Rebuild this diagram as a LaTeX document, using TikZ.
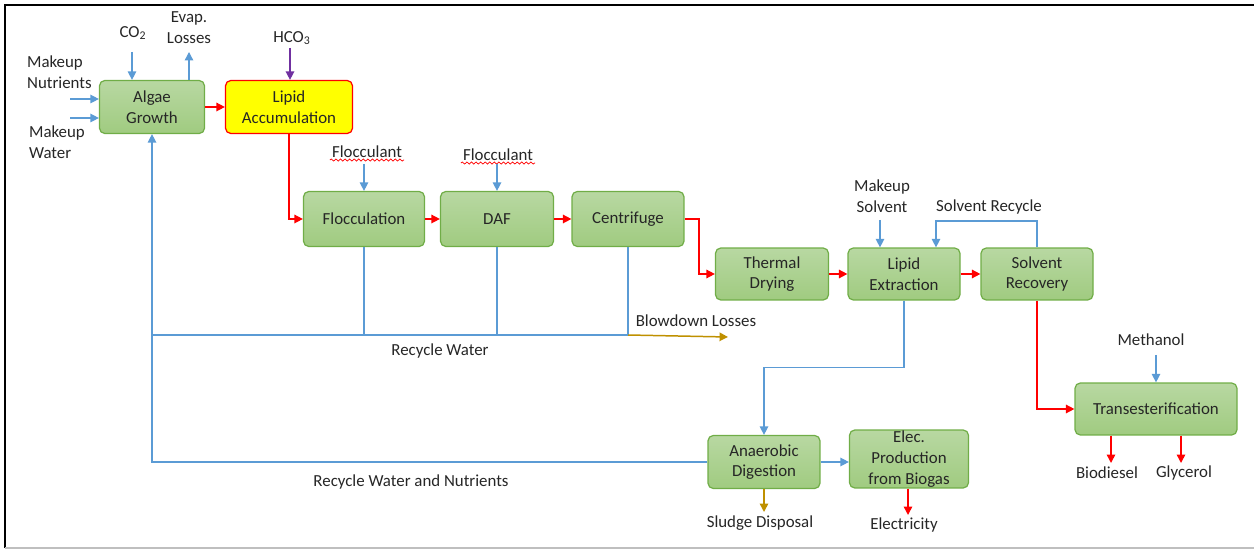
\documentclass[tikz,border=0pt]{standalone}
\usepackage{fontspec}
\setmainfont{Carlito}
\usepackage{tikz}
\usetikzlibrary{arrows.meta, positioning, calc, decorations.pathmorphing}

\definecolor{flowblue}{RGB}{91,155,213}
\definecolor{flowred}{RGB}{255,0,0}
\definecolor{flowgold}{RGB}{191,144,0}
\definecolor{flowpurple}{RGB}{112,48,160}
\definecolor{boxgreen}{RGB}{112,173,71}
\definecolor{greentop}{RGB}{184,216,162}
\definecolor{greenbot}{RGB}{160,203,128}

\begin{document}
\begin{tikzpicture}[x=0.02cm, y=-0.02cm, font=\fontsize{9.6}{11.8}\selectfont,
    proc/.style={draw=boxgreen, line width=0.7pt, rounded corners=3pt,
        top color=greentop, bottom color=greenbot, align=center,
        inner sep=0pt, text=black!85},
    lbl/.style={align=center, text=black!85, inner sep=1pt},
    tip/.style={-{Triangle[length=4.8pt,width=4.8pt]}},
    water/.style={flowblue, line width=0.75pt},
    prod/.style={flowred, line width=0.85pt},
    waste/.style={flowgold, line width=0.85pt},
    wavy/.style={flowred, line width=0.4pt, decorate,
        decoration={snake, amplitude=0.6pt, segment length=2.6pt}}]

    % frame
    \useasboundingbox (0,0) rectangle (1254,550);
    \draw[black, line width=1.2pt] (1254,5) -- (5,5) -- (5,548);
    \draw[gray!50, line width=0.8pt] (5,548) -- (1254,548);

    % Growth stage
    \node[proc, minimum width=2.1cm, minimum height=1.06cm] (alg) at (152,107) {Algae\\Growth};
    \node[proc, draw=flowred, top color=yellow, bottom color=yellow,
        minimum width=2.54cm, minimum height=1.06cm] (lac) at (289,107) {Lipid\\Accumulation};

    \node[lbl] (co2) at (133,33) {CO\textsubscript{2}};
    \node[lbl] (evap) at (189,28) {Evap.\\Losses};
    \node[lbl] (hco3) at (292,38) {HCO\textsubscript{3}};
    \node[lbl, align=left, anchor=west] (mnut) at (25,72) {Makeup\\Nutrients};
    \node[lbl, align=left, anchor=west] (mwat) at (27,142) {Makeup\\Water};

    \coordinate (co2in) at (132,52);
    \coordinate (evout) at (189,52);
    \coordinate (hco3in) at (290,48);
    \coordinate (mnin) at (70,99);
    \coordinate (mwin) at (70,118);

    \draw[water, tip] (co2in) -- (co2in |- alg.north);
    \draw[water, tip] (evout |- alg.north) -- (evout);
    \draw[flowpurple, line width=0.85pt, tip] (hco3in) -- (hco3in |- lac.north);
    \draw[water, tip] (mnin) -- (mnin -| alg.west);
    \draw[water, tip] (mwin) -- (mwin -| alg.west);
    \draw[prod, tip] (alg.east) -- (lac.west);

    % Harvesting
    \node[proc, minimum width=2.42cm, minimum height=1.1cm] (floc) at (364,219) {Flocculation};
    \node[proc, minimum width=2.26cm, minimum height=1.1cm] (daf) at (497,219) {DAF};
    \node[proc, minimum width=2.24cm, minimum height=1.1cm] (cen) at (628,219) {Centrifuge};

    \node[lbl] (fl1) at (367,152) {Flocculant};
    \node[lbl] (fl2) at (498,155) {Flocculant};
    \draw[wavy] (fl1.south west) -- (fl1.south east);
    \draw[wavy] (fl2.south west) -- (fl2.south east);
    \coordinate (fl1in) at (364,164);
    \coordinate (fl2in) at (497,164);
    \draw[water, tip] (fl1in) -- (fl1in |- floc.north);
    \draw[water, tip] (fl2in) -- (fl2in |- daf.north);

    \draw[prod, tip] (lac.south) |- (floc.west);
    \draw[prod, tip] (floc.east) -- (daf.west);
    \draw[prod, tip] (daf.east) -- (cen.west);

    % Extraction
    \node[proc, minimum width=2.26cm, minimum height=1.04cm] (td) at (772,274) {Thermal\\Drying};
    \node[proc, minimum width=2.24cm, minimum height=1.04cm] (lex) at (904,274) {Lipid\\Extraction};
    \node[proc, minimum width=2.24cm, minimum height=1.04cm] (sr) at (1037,274) {Solvent\\Recovery};

    \node[lbl] (msol) at (882,196) {Makeup\\Solvent};
    \node[lbl] (srec) at (989,207) {Solvent Recycle};
    \coordinate (msin) at (880,220);
    \coordinate (srturn) at (936,221);
    \coordinate (ctd) at (699,247);

    \draw[prod, tip] (cen.east) -| (ctd) |- (td.west);
    \draw[prod, tip] (td.east) -- (lex.west);
    \draw[prod, tip] (lex.east) -- (sr.west);
    \draw[water, tip] (msin) -- (msin |- lex.north);
    \draw[water, tip] (sr.north) |- (srturn) -- (srturn |- lex.north);

    % Recycle water
    \coordinate (rw) at (152,335);
    \coordinate (bd) at (728,337);
    \draw[water] (floc.south) |- (rw);
    \draw[water] (daf.south) |- (rw);
    \draw[water] (cen.south) |- (rw);
    \draw[waste, tip] (cen.south |- rw) -- (bd);
    \node[lbl] (bdl) at (696,321) {Blowdown Losses};
    \node[lbl] (rwl) at (440,351) {Recycle Water};

    % Transesterification
    \node[proc, minimum width=3.24cm, minimum height=1.04cm] (tr) at (1156,409) {Transesterification};
    \node[lbl] (meth) at (1151,340) {Methanol};
    \node[lbl] (bio) at (1107,473) {Biodiesel};
    \node[lbl] (gly) at (1184,473) {Glycerol};
    \coordinate (methin) at (1156,355);
    \coordinate (biout) at (1111,463);
    \coordinate (glout) at (1181,463);

    \draw[prod, tip] (sr.south) |- (tr.west);
    \draw[water, tip] (methin) -- (methin |- tr.north);
    \draw[prod, tip] (biout |- tr.south) -- (biout);
    \draw[prod, tip] (glout |- tr.south) -- (glout);

    % Digestion
    \node[proc, minimum width=2.24cm, minimum height=1.06cm] (ad) at (764,462) {Anaerobic\\Digestion};
    \node[proc, minimum width=2.38cm, minimum height=1.16cm] (ep) at (909,459) {Elec.\\Production\\from Biogas};
    \node[lbl] (sdl) at (760,523) {Sludge Disposal};
    \node[lbl] (ell) at (904,525) {Electricity};
    \node[lbl] (rwn) at (411,482) {Recycle Water and Nutrients};
    \coordinate (sdout) at (764,512);
    \coordinate (elout) at (908,515);

    \draw[water, tip] (lex.south) |- ($(lex.south)!.5!(ad.north)$) -| (ad.north);
    \draw[water, tip] (ad.east) -- (ad.east -| ep.west);
    \draw[waste, tip] (ad.south) -- (sdout);
    \draw[prod, tip] (elout |- ep.south) -- (elout);
    \draw[water, tip] (ad.west) -| (alg.south);
\end{tikzpicture}
\end{document}
